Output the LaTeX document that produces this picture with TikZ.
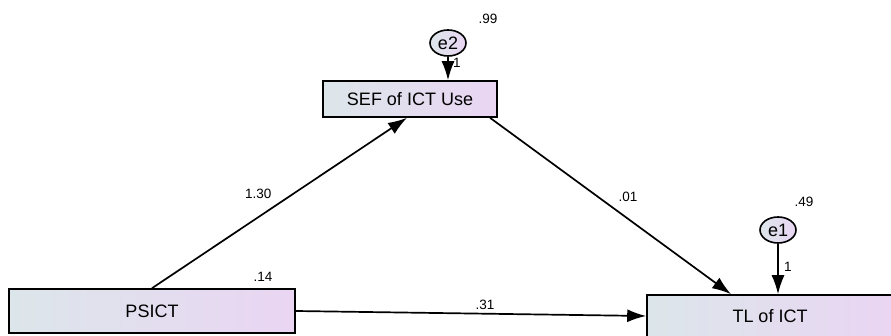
\documentclass[tikz,border=0pt]{standalone}
\usepackage{fontspec}
\setmainfont{Liberation Sans}
\usetikzlibrary{arrows.meta,shapes.geometric}
\tikzset{
  obsbox/.style={draw, line width=1.6pt, left color=boxleft, right color=boxright,
    minimum height=#1, inner sep=0pt, font=\fontsize{18}{18}\selectfont},
  errnode/.style={draw, ellipse, line width=1.6pt, left color=boxleft, right color=boxright,
    minimum width=36pt, minimum height=26pt, inner sep=0pt, font=\fontsize{18}{18}\selectfont},
  pathline/.style={line width=1.7pt, -{Latex[length=19pt,width=13pt]}},
  est/.style={font=\fontsize{13.5}{13.5}\selectfont}
}
\definecolor{boxleft}{HTML}{DCE6EA}
\definecolor{boxright}{HTML}{EAD5F3}
\begin{document}
\begin{tikzpicture}[x=1pt,y=-1pt]
  \useasboundingbox (0,0) rectangle (891,336);
  % observed variables
  \node[obsbox=44pt, minimum width=286pt] (psict) at (152,311) {PSICT};
  \node[obsbox=36pt, minimum width=174pt] (sef) at (410,99) {SEF of ICT Use};
  \node[obsbox=42pt, minimum width=246pt] (tl) at (770,316) {TL of ICT};
  % error terms
  \node[errnode] (e2) at (448,43) {e2};
  \node[errnode] (e1) at (778,230) {e1};
  % paths
  \draw[pathline] (psict.north) -- (sef.south -| 407,0) node[est, pos=0.5, above left, xshift=-4pt] {1.30};
  \draw[pathline] (sef.south -| 490,0) -- (tl.north -| 731,0) node[est, pos=0.5, above right, xshift=4pt] {.01};
  \draw[pathline] (psict.east) -- (tl.west) node[est, pos=0.54, above] {.31};
  \draw[pathline] (e2) -- (e2 |- sef.north) node[est, pos=0.25, right, xshift=1pt] {1};
  \draw[pathline] (e1) -- (e1 |- tl.north) node[est, pos=0.45, right, xshift=2pt] {1};
  % variances
  \node[est] (v2) at (488,19) {.99};
  \node[est] (v1) at (804,202) {.49};
  \node[est] (v0) at (263,277) {.14};
\end{tikzpicture}
\end{document}
